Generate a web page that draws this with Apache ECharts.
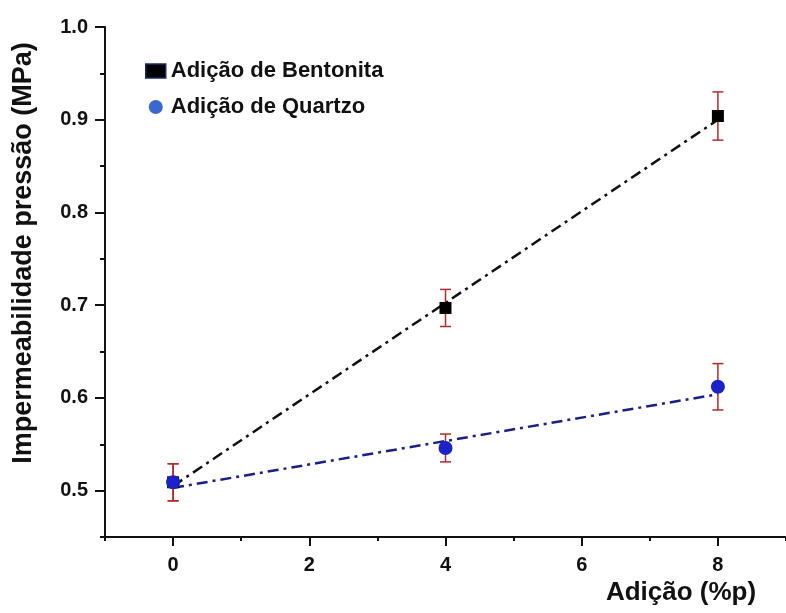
<!DOCTYPE html>
<html><head><meta charset="utf-8">
<script src="https://cdn.jsdelivr.net/npm/echarts@6/dist/echarts.min.js"></script>
<style>html,body{margin:0;padding:0;background:#fff}#c{width:786px;height:613px}</style>
</head><body><div id="c"></div>
<script>
const xValues = [0, 4, 8];
const bentonita = [0.509, 0.697, 0.904];
const bentonitaErr = [0.020, 0.020, 0.026];
const quartzo = [0.509, 0.546, 0.612];
const quartzoErr = [0.020, 0.015, 0.025];
const fitX = [0, 8];
const bentonitaFit = [0.505, 0.900];
const quartzoFit = [0.503, 0.604];
const xMajorTicks = [0, 2, 4, 6, 8];
const xMinorTicks = [-1, 1, 3, 5, 7, 9];
const yMajorTicks = [0.5, 0.6, 0.7, 0.8, 0.9, 1.0];
const yMinorTicks = [0.45, 0.55, 0.65, 0.75, 0.85, 0.95];
const legendNames = ['Adição de Bentonita', 'Adição de Quartzo'];
const xName = 'Adição (%p)';
const yName = 'Impermeabilidade pressão (MPa)';

const FONT = '"Liberation Sans", Arial, sans-serif';
const chart = echarts.init(document.getElementById('c'));

function errSeries(xs, ys, es, z) {
  return {
    type: 'custom', z: z, silent: true,
    data: xs.map((x, i) => [x, ys[i] - es[i], ys[i] + es[i]]),
    renderItem: function (params, api) {
      const lo = api.coord([api.value(0), api.value(1)]);
      const hi = api.coord([api.value(0), api.value(2)]);
      const w = 5.5;
      const st = { stroke: '#b22a2a', lineWidth: 1.5 };
      return { type: 'group', children: [
        { type: 'line', shape: { x1: lo[0], y1: lo[1], x2: hi[0], y2: hi[1] }, style: st },
        { type: 'line', shape: { x1: lo[0] - w, y1: lo[1], x2: lo[0] + w, y2: lo[1] }, style: st },
        { type: 'line', shape: { x1: hi[0] - w, y1: hi[1], x2: hi[0] + w, y2: hi[1] }, style: st }
      ]};
    }
  };
}

const axisLineStyle = { color: '#111', width: 2 };
const labelStyle = { color: '#111', fontFamily: FONT, fontWeight: 'bold', fontSize: 20 };

const option = {
  animation: false,
  backgroundColor: '#fff',
  grid: { left: 105, top: 27, right: -10, bottom: 76 },
  xAxis: [{
    type: 'value', min: -1, max: 9,
    axisLine: { onZero: false, lineStyle: axisLineStyle },
    splitLine: { show: false },
    axisTick: { customValues: xMajorTicks, length: 9, lineStyle: { color: '#111', width: 2 } },
    axisLabel: Object.assign({ customValues: xMajorTicks, margin: 18 }, labelStyle)
  }, {
    type: 'value', min: -1, max: 9, position: 'bottom',
    axisLine: { show: false, onZero: false }, splitLine: { show: false },
    axisTick: { customValues: xMinorTicks, length: 4, lineStyle: { color: '#111', width: 2 } },
    axisLabel: { show: false }
  }],
  yAxis: [{
    type: 'value', min: 0.45, max: 1.0,
    axisLine: { show: true, onZero: false, lineStyle: axisLineStyle },
    splitLine: { show: false },
    axisTick: { show: true, customValues: yMajorTicks, length: 10, lineStyle: { color: '#111', width: 2 } },
    axisLabel: Object.assign({ customValues: yMajorTicks, margin: 17,
      formatter: v => v.toFixed(1) }, labelStyle)
  }, {
    type: 'value', min: 0.45, max: 1.0, position: 'left',
    axisLine: { show: false, onZero: false }, splitLine: { show: false },
    axisTick: { show: true, customValues: yMinorTicks, length: 5, lineStyle: { color: '#111', width: 2 } },
    axisLabel: { show: false }
  }],
  legend: {
    orient: 'vertical', left: 145, top: 60, itemGap: 14, padding: 0,
    itemWidth: 20, itemHeight: 14,
    textStyle: { color: '#111', fontFamily: FONT, fontSize: 22, fontWeight: 'bold' },
    data: [
      { name: legendNames[0], icon: 'rect', itemStyle: { color: '#000', borderColor: '#1a2a6a', borderWidth: 1.5 } },
      { name: legendNames[1], icon: 'circle', itemStyle: { color: '#3a68d0' } }
    ]
  },
  graphic: [
    { type: 'text', x: 24, y: 253, rotation: Math.PI / 2,
      style: { text: yName, fill: '#111', font: 'bold 27px ' + FONT, textAlign: 'center', textVerticalAlign: 'middle' } },
    { type: 'text', x: 681, y: 593,
      style: { text: xName, fill: '#111', font: 'bold 26px ' + FONT, textAlign: 'center', textVerticalAlign: 'middle' } }
  ],
  series: [
    { type: 'line', silent: true, symbol: 'none', z: 2,
      data: fitX.map((x, i) => [x, bentonitaFit[i]]),
      lineStyle: { color: '#111', width: 2.5, type: [11, 5, 3, 5] } },
    { type: 'line', silent: true, symbol: 'none', z: 2,
      data: fitX.map((x, i) => [x, quartzoFit[i]]),
      lineStyle: { color: '#1a1f8a', width: 2.5, type: [11, 5, 3, 5] } },
    errSeries(xValues, bentonita, bentonitaErr, 3),
    errSeries(xValues, quartzo, quartzoErr, 3),
    { name: legendNames[0], type: 'scatter', symbol: 'rect', symbolSize: 12, z: 4,
      data: xValues.map((x, i) => [x, bentonita[i]]),
      itemStyle: { color: '#000', opacity: 1 } },
    { name: legendNames[1], type: 'scatter', symbol: 'circle', symbolSize: 14, z: 5,
      data: xValues.map((x, i) => [x, quartzo[i]]),
      itemStyle: { color: '#1a22c8', opacity: 1 } }
  ]
};
chart.setOption(option);
</script></body></html>
